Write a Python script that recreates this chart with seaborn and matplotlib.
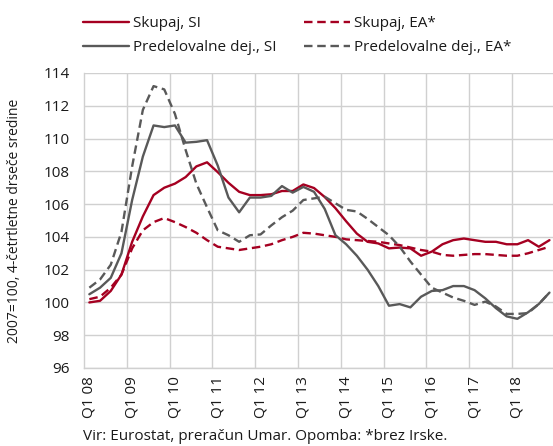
import numpy as np
import pandas as pd
import seaborn as sns
import matplotlib
matplotlib.use("Agg")
import matplotlib.pyplot as plt
from matplotlib.lines import Line2D
from matplotlib.ticker import FixedLocator

# ---- data (quarterly, Q1 2008 - Q4 2018) ----
years = ["08", "09", "10", "11", "12", "13", "14", "15", "16", "17", "18"]
quarters = [f"Q{q} {y}" for y in years for q in range(1, 5)]

skupaj_si = [100.0, 100.1, 100.7, 101.7, 103.7, 105.25, 106.55, 107.0, 107.25, 107.65,
             108.3, 108.55, 107.95, 107.3, 106.75, 106.55, 106.55, 106.6, 106.8, 106.8,
             107.2, 106.98, 106.43, 105.75, 104.95, 104.2, 103.7, 103.6, 103.3, 103.35,
             103.3, 102.85, 103.1, 103.55, 103.8, 103.9, 103.8, 103.7, 103.7, 103.55,
             103.55, 103.8, 103.4, 103.8]
skupaj_ea = [100.2, 100.35, 100.9, 101.7, 103.3, 104.4, 104.9, 105.15, 104.9, 104.6,
             104.25, 103.8, 103.4, 103.3, 103.2, 103.3, 103.4, 103.55, 103.8, 104.0,
             104.25, 104.2, 104.1, 104.0, 103.85, 103.8, 103.75, 103.7, 103.6, 103.5,
             103.35, 103.2, 103.1, 102.9, 102.85, 102.9, 102.95, 102.95, 102.9, 102.85,
             102.85, 103.0, 103.2, 103.4]
predel_si = [100.5, 100.9, 101.5, 103.0, 106.25, 108.9, 110.8, 110.7, 110.8, 109.75,
             109.8, 109.9, 108.35, 106.4, 105.5, 106.4, 106.4, 106.5, 107.1, 106.7,
             107.05, 106.75, 105.7, 104.1, 103.55, 102.85, 102.0, 101.0, 99.8, 99.9,
             99.7, 100.35, 100.7, 100.75, 101.0, 101.0, 100.75, 100.25, 99.65, 99.15,
             99.0, 99.4, 99.9, 100.6]
predel_ea = [100.9, 101.4, 102.3, 104.3, 108.3, 111.75, 113.2, 113.0, 111.5, 109.3,
             107.25, 105.8, 104.4, 104.1, 103.7, 104.1, 104.15, 104.7, 105.2, 105.6,
             106.25, 106.35, 106.45, 106.05, 105.65, 105.55, 105.1, 104.6, 104.1, 103.4,
             102.5, 101.7, 100.9, 100.6, 100.3, 100.1, 99.85, 100.05, 99.75, 99.3,
             99.3, 99.35, 99.9, 100.6]

series_names = ["Skupaj, SI", "Skupaj, EA*", "Predelovalne dej., SI", "Predelovalne dej., EA*"]
series_values = [skupaj_si, skupaj_ea, predel_si, predel_ea]

RED = "#A50021"
GREY = "#595959"
palette = {series_names[0]: RED, series_names[1]: RED,
           series_names[2]: GREY, series_names[3]: GREY}
DASH = (3.6, 2.0)
dashes = {series_names[0]: "", series_names[1]: DASH,
          series_names[2]: "", series_names[3]: DASH}

rows = []
for name, vals in zip(series_names, series_values):
    for i, v in enumerate(vals):
        rows.append({"idx": i, "value": v, "series": name})
df = pd.DataFrame(rows)

sns.set_theme(style="white")
plt.rcParams["font.family"] = ["Open Sans", "DejaVu Sans"]
TXT = "#1a1a1a"
FS = 11

fig = plt.figure(figsize=(5.53, 4.46), dpi=100)
ax = fig.add_axes([84 / 553, 1 - 368 / 446, 1 - 84 / 553, (368 - 73) / 446])

sns.lineplot(data=df, x="idx", y="value", hue="series", style="series",
             palette=palette, dashes=dashes, linewidth=1.7, ax=ax, legend=False,
             hue_order=series_names, style_order=series_names)

ax.set_xlim(-0.5, 43.33)
ax.set_ylim(96, 114)
ax.set_yticks(np.arange(96, 115, 2))
ax.set_yticklabels([str(v) for v in range(96, 115, 2)], fontsize=FS, color=TXT)

major = list(range(0, 44, 4))
ax.xaxis.set_major_locator(FixedLocator(major))
ax.set_xticklabels([quarters[i] for i in major], rotation=90, fontsize=FS, color=TXT)
ax.xaxis.set_minor_locator(FixedLocator([i - 0.5 for i in range(4, 44, 4)]))

GRID = "#D0D0D0"
ax.grid(False)
ax.grid(True, axis="y", which="major", color=GRID, linewidth=1.0)
ax.grid(True, axis="x", which="minor", color=GRID, linewidth=1.0)
ax.set_axisbelow(True)
ax.tick_params(axis="both", which="both", length=0)
ax.tick_params(axis="y", pad=10.5)
ax.tick_params(axis="x", pad=6)
for s in ["top", "right"]:
    ax.spines[s].set_visible(False)
for s in ["left", "bottom"]:
    ax.spines[s].set_color(GRID)
    ax.spines[s].set_linewidth(1.0)

ax.set_xlabel("")
ax.set_ylabel("2007=100, 4-četrtletne drseče sredine", fontsize=10, color=TXT)
ax.yaxis.set_label_coords(-(84 - 22) / 469, 0.5)

handles = [
    Line2D([], [], color=RED, lw=1.7),
    Line2D([], [], color=GREY, lw=1.7),
    Line2D([], [], color=RED, lw=1.7, dashes=DASH),
    Line2D([], [], color=GREY, lw=1.7, dashes=DASH),
]
labels = [series_names[0], series_names[2], series_names[1], series_names[3]]
fig.legend(handles, labels, loc="upper left", bbox_to_anchor=(83 / 553, 1 - 16 / 446),
           ncol=2, frameon=False, fontsize=FS, handlelength=3.0, handletextpad=0.28,
           columnspacing=1.8, labelspacing=0.6, borderaxespad=0, borderpad=0,
           labelcolor=TXT)

fig.text(83 / 553, 1 - 437 / 446, "Vir: Eurostat, preračun Umar. Opomba: *brez Irske.",
         fontsize=FS, color=TXT, va="center", ha="left")

fig.savefig("out.png", dpi=100)
